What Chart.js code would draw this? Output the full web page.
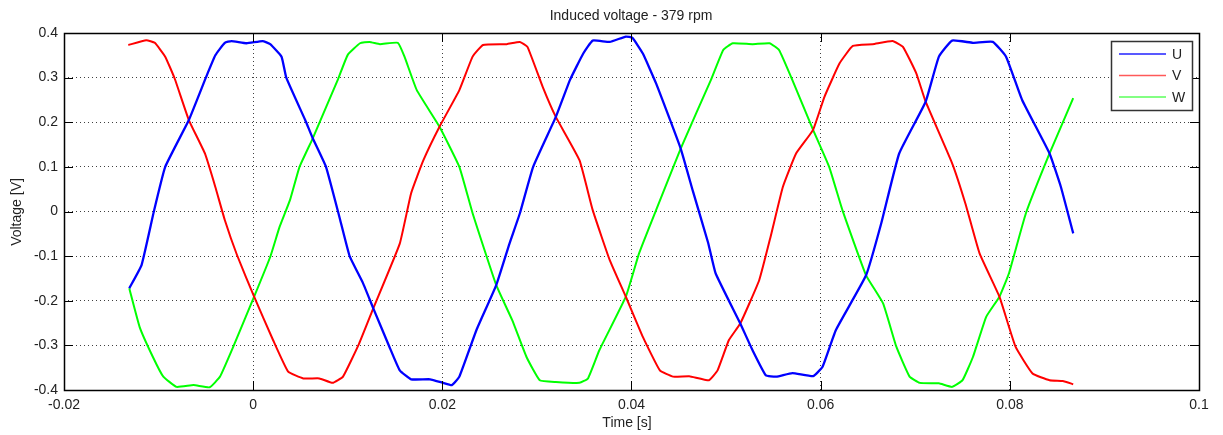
<!DOCTYPE html>
<html>
<head>
<meta charset="utf-8">
<script src="https://cdn.jsdelivr.net/npm/chart.js@4"></script>
<style>
  html, body { margin: 0; padding: 0; background: #fff; }
  #wrap { width: 1223px; height: 435px; position: relative; }
</style>
</head>
<body>
<div id="wrap"><canvas id="voltChart"></canvas></div>
<script>
// Induced voltage - 379 rpm, three phases
const xTicks = [-0.02, 0, 0.02, 0.04, 0.06, 0.08, 0.1];
const yTicks = [-0.4, -0.3, -0.2, -0.1, 0, 0.1, 0.2, 0.3, 0.4];

const uTime = [-0.0131, -0.0118, -0.0105, -0.0093, -0.0068, -0.0050, -0.0040, -0.0030, -0.0023, -0.0007,
  0.0010, 0.0018, 0.0030, 0.0035, 0.0055, 0.0063, 0.0077, 0.0092, 0.0102, 0.0116, 0.0127, 0.0144,
  0.0155, 0.0167, 0.0187, 0.0201, 0.0210, 0.0218, 0.0236, 0.0257, 0.0271, 0.0282, 0.0296, 0.0320,
  0.0335, 0.0349, 0.0359, 0.0377, 0.0394, 0.0401, 0.0412, 0.0426, 0.0452, 0.0465, 0.0481, 0.0489,
  0.0515, 0.0528, 0.0542, 0.0553, 0.0570, 0.0592, 0.0602, 0.0616, 0.0648, 0.0664, 0.0683, 0.0711,
  0.0725, 0.0739, 0.0761, 0.0782, 0.0796, 0.0813, 0.0842, 0.0854, 0.0867];
const uVolt = [-0.172, -0.120, 0.000, 0.100, 0.205, 0.300, 0.350, 0.378, 0.382, 0.377,
  0.382, 0.375, 0.347, 0.300, 0.205, 0.164, 0.100, -0.019, -0.100, -0.160, -0.217, -0.303,
  -0.356, -0.376, -0.376, -0.384, -0.389, -0.370, -0.266, -0.165, -0.072, -0.004, 0.100, 0.212,
  0.295, 0.354, 0.383, 0.380, 0.392, 0.389, 0.354, 0.287, 0.141, 0.045, -0.070, -0.139,
  -0.251, -0.311, -0.367, -0.370, -0.362, -0.369, -0.348, -0.266, -0.143, -0.027, 0.130, 0.246,
  0.347, 0.383, 0.378, 0.380, 0.347, 0.250, 0.130, 0.055, -0.049];

const vTime = [-0.0132, -0.0113, -0.0104, -0.0093, -0.0083, -0.0068, -0.0051, -0.0040, -0.0030, -0.0017,
  0.0001, 0.0021, 0.0037, 0.0053, 0.0070, 0.0084, 0.0095, 0.0112, 0.0127, 0.0155, 0.0167, 0.0180,
  0.0197, 0.0218, 0.0232, 0.0243, 0.0268, 0.0282, 0.0290, 0.0306, 0.0320, 0.0345, 0.0359, 0.0377,
  0.0394, 0.0412, 0.0430, 0.0444, 0.0461, 0.0482, 0.0491, 0.0503, 0.0515, 0.0535, 0.0547, 0.0560,
  0.0574, 0.0592, 0.0604, 0.0620, 0.0634, 0.0655, 0.0676, 0.0687, 0.0701, 0.0711, 0.0739, 0.0753,
  0.0768, 0.0789, 0.0806, 0.0824, 0.0842, 0.0856, 0.0867];
const vVolt = [0.373, 0.384, 0.378, 0.347, 0.298, 0.205, 0.130, 0.055, -0.019, -0.098,
  -0.191, -0.288, -0.359, -0.374, -0.374, -0.384, -0.370, -0.296, -0.217, -0.072, 0.041, 0.115,
  0.190, 0.272, 0.347, 0.373, 0.375, 0.380, 0.369, 0.280, 0.212, 0.115, 0.003, -0.109,
  -0.191, -0.281, -0.356, -0.370, -0.369, -0.378, -0.356, -0.288, -0.251, -0.154, -0.057, 0.055,
  0.130, 0.183, 0.257, 0.332, 0.371, 0.375, 0.382, 0.369, 0.310, 0.246, 0.108, 0.018,
  -0.094, -0.191, -0.303, -0.363, -0.378, -0.380, -0.387];

const wTime = [-0.0131, -0.0120, -0.0106, -0.0095, -0.0081, -0.0063, -0.0046, -0.0035, -0.0021, 0.0001,
  0.0018, 0.0028, 0.0039, 0.0049, 0.0063, 0.0090, 0.0100, 0.0113, 0.0123, 0.0134, 0.0153, 0.0160,
  0.0173, 0.0197, 0.0218, 0.0232, 0.0257, 0.0274, 0.0289, 0.0303, 0.0320, 0.0345, 0.0354, 0.0366,
  0.0394, 0.0408, 0.0426, 0.0452, 0.0484, 0.0497, 0.0507, 0.0528, 0.0546, 0.0556, 0.0570, 0.0592,
  0.0609, 0.0623, 0.0648, 0.0666, 0.0680, 0.0694, 0.0705, 0.0725, 0.0739, 0.0750, 0.0761, 0.0775,
  0.0789, 0.0799, 0.0817, 0.0842, 0.0867];
const wVolt = [-0.172, -0.259, -0.326, -0.370, -0.393, -0.389, -0.394, -0.370, -0.303, -0.191,
  -0.102, -0.034, 0.026, 0.100, 0.164, 0.298, 0.351, 0.377, 0.380, 0.375, 0.378, 0.347,
  0.272, 0.190, 0.100, -0.004, -0.165, -0.244, -0.326, -0.378, -0.382, -0.384, -0.374, -0.311,
  -0.191, -0.094, 0.003, 0.141, 0.295, 0.362, 0.377, 0.375, 0.377, 0.362, 0.295, 0.183,
  0.100, 0.003, -0.143, -0.206, -0.303, -0.370, -0.384, -0.385, -0.393, -0.378, -0.326, -0.236,
  -0.191, -0.139, -0.004, 0.130, 0.254];

const phaseNames = ['U', 'V', 'W'];
const phaseColors = ['#0000ff', '#ff0000', '#00ff00'];

const FONT = '"Liberation Sans", Arial, sans-serif';

function toPoints(ts, vs) {
    return ts.map((t, i) => ({ x: t, y: vs[i] }));
}

// title, axis labels, inward ticks, box and legend (MATLAB look)
const matlabFrame = {
    id: 'matlabFrame',
    afterDraw(chart) {
        const { ctx, chartArea: a, scales } = chart;
        const tickLen = 9;
        ctx.save();
        ctx.strokeStyle = '#000';
        ctx.lineWidth = 1;
        ctx.setLineDash([]);
        ctx.beginPath();
        xTicks.forEach(v => {
            const px = Math.round(scales.x.getPixelForValue(v)) + 0.5;
            ctx.moveTo(px, a.bottom); ctx.lineTo(px, a.bottom - tickLen);
            ctx.moveTo(px, a.top); ctx.lineTo(px, a.top + tickLen);
        });
        yTicks.forEach(v => {
            const py = Math.round(scales.y.getPixelForValue(v)) + 0.5;
            ctx.moveTo(a.left, py); ctx.lineTo(a.left + tickLen, py);
            ctx.moveTo(a.right, py); ctx.lineTo(a.right - tickLen, py);
        });
        ctx.stroke();
        ctx.lineWidth = 1.5;
        ctx.strokeRect(Math.round(a.left) + 0.5, Math.round(a.top) + 0.5,
            Math.round(a.right - a.left), Math.round(a.bottom - a.top));

        // texts
        ctx.fillStyle = '#222';
        ctx.font = '14px ' + FONT;
        ctx.textAlign = 'center';
        ctx.textBaseline = 'middle';
        ctx.fillText('Induced voltage - 379 rpm', 631, 16);
        ctx.fillText('Time [s]', 627, 423);
        ctx.save();
        ctx.translate(17, 212);
        ctx.rotate(-Math.PI / 2);
        ctx.fillText('Voltage [V]', 0, 0);
        ctx.restore();

        // legend
        const lx = 1111, ly = 41, lw = 81, lh = 69;
        ctx.fillStyle = '#fff';
        ctx.fillRect(lx, ly, lw, lh);
        ctx.lineWidth = 1.5;
        ctx.strokeStyle = '#333';
        ctx.strokeRect(lx + 0.5, ly + 0.5, lw, lh);
        ctx.textAlign = 'left';
        phaseNames.forEach((name, i) => {
            const y = ly + 13 + i * 21.5;
            ctx.strokeStyle = phaseColors[i];
            ctx.globalAlpha = 0.65;
            ctx.lineWidth = i === 0 ? 2 : 1.5;
            ctx.beginPath();
            ctx.moveTo(lx + 8, y); ctx.lineTo(lx + 55, y);
            ctx.stroke();
            ctx.globalAlpha = 1;
            ctx.fillStyle = '#222';
            ctx.fillText(name, lx + 61, y + 1);
        });
        ctx.restore();
    }
};

new Chart(document.getElementById('voltChart'), {
    type: 'scatter',
    data: {
        datasets: phaseNames.map((name, i) => ({
            label: name,
            data: toPoints([uTime, vTime, wTime][i], [uVolt, vVolt, wVolt][i]),
            showLine: true,
            borderColor: phaseColors[i],
            backgroundColor: phaseColors[i],
            borderWidth: i === 0 ? 2.3 : 2,
            pointRadius: 0,
            tension: 0.12
        }))
    },
    options: {
        responsive: true,
        maintainAspectRatio: false,
        animation: false,
        layout: { padding: { top: 33, right: 24, left: 0, bottom: 0 } },
        plugins: {
            legend: { display: false },
            tooltip: { enabled: false }
        },
        scales: {
            x: {
                type: 'linear',
                min: -0.02,
                max: 0.1,
                afterBuildTicks: s => { s.ticks = xTicks.map(v => ({ value: v })); },
                afterFit: s => { s.height = 45; },
                grid: { color: 'rgba(0,0,0,0.75)', lineWidth: 1, drawTicks: false },
                border: { display: false, dash: [1, 3] },
                ticks: {
                    color: '#222',
                    padding: 7,
                    font: { family: FONT, size: 14 },
                    maxRotation: 0,
                    callback: v => String(v)
                }
            },
            y: {
                type: 'linear',
                min: -0.4,
                max: 0.4,
                afterBuildTicks: s => { s.ticks = yTicks.map(v => ({ value: v })); },
                afterFit: s => { s.width = 64; },
                grid: { color: 'rgba(0,0,0,0.75)', lineWidth: 1, drawTicks: false },
                border: { display: false, dash: [1, 3] },
                ticks: {
                    color: '#222',
                    padding: 6,
                    font: { family: FONT, size: 14 },
                    callback: v => String(v)
                }
            }
        }
    },
    plugins: [matlabFrame]
});
</script>
</body>
</html>
